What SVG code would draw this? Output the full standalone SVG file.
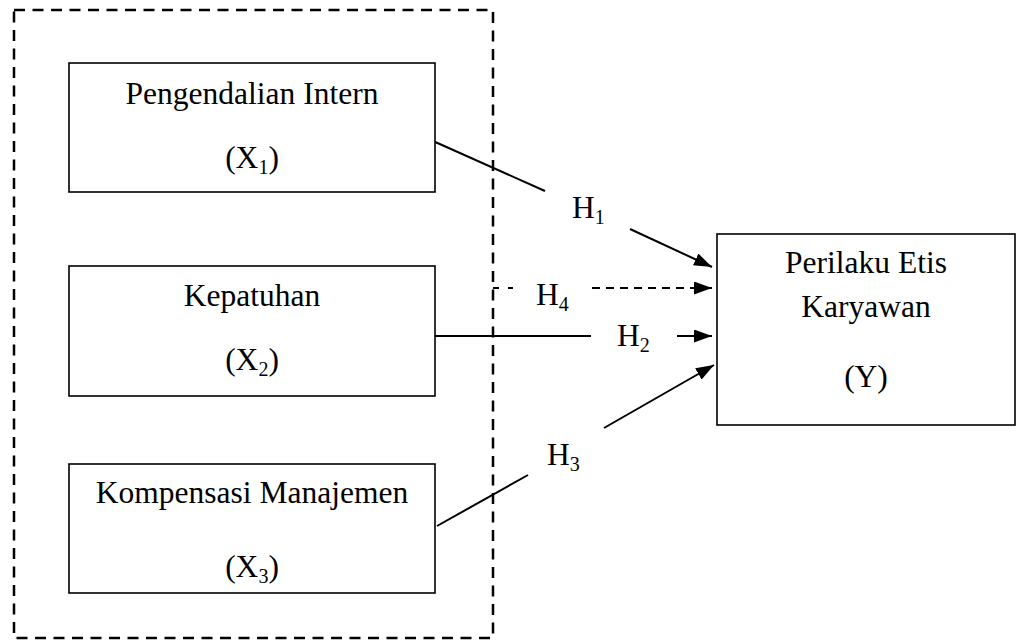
<svg xmlns="http://www.w3.org/2000/svg" width="1017" height="641" viewBox="0 0 1017 641">
<style>
.box{fill:#fff;stroke:#000;stroke-width:1.6}
.t{font-family:"Liberation Serif","Times New Roman",serif;font-size:31.5px;fill:#000;text-anchor:middle}
.lbl{font-family:"Liberation Serif","Times New Roman",serif;font-size:31.5px;fill:#000}
.sub{font-size:20px}
.ln{stroke:#000;stroke-width:2;fill:none}
.dash{stroke:#000;stroke-width:2.5;fill:none;stroke-dasharray:11 7.5}
.dash2{stroke:#000;stroke-width:2;fill:none;stroke-dasharray:8 6}
</style>
<defs>
<marker id="ah" markerWidth="18" markerHeight="13" refX="18" refY="6.5" orient="auto" markerUnits="userSpaceOnUse">
<path d="M0,0 L18,6.5 L0,13 Z" fill="#000"/>
</marker>
</defs>
<rect width="1017" height="641" fill="#fff"/>
<g id="group-x">
<rect x="14" y="10" width="479" height="628" class="dash"/>
</g>
<g id="connectors">
<line x1="433" y1="141" x2="545" y2="191" class="ln"/>
<line x1="630" y1="229" x2="712" y2="267" class="ln" marker-end="url(#ah)"/>
<line x1="435" y1="336" x2="591" y2="336" class="ln"/>
<line x1="677" y1="336" x2="712" y2="336" class="ln" marker-end="url(#ah)"/>
<line x1="437" y1="526" x2="528" y2="475" class="ln"/>
<line x1="604" y1="428" x2="714" y2="365" class="ln" marker-end="url(#ah)"/>
<line x1="493" y1="288" x2="499" y2="288" class="ln"/>
<line x1="508" y1="288" x2="513" y2="288" class="ln"/>
<line x1="592" y1="288" x2="712" y2="288" class="dash2" stroke-dasharray="2 7 8 6 8 6 8 6 8 6 8 6 8 6 8 6 8 6" marker-end="url(#ah)"/>
<text x="572" y="218" class="lbl">H<tspan class="sub" dy="6">1</tspan></text>
<text x="536" y="305" class="lbl">H<tspan class="sub" dy="6">4</tspan></text>
<text x="617" y="346" class="lbl">H<tspan class="sub" dy="6">2</tspan></text>
<text x="547" y="465" class="lbl">H<tspan class="sub" dy="6">3</tspan></text>
</g>
<g id="node-x1">
<rect x="69" y="63" width="366" height="129" class="box"/>
<text x="252" y="104" class="t">Pengendalian Intern</text>
<text x="252" y="168" class="t">(X<tspan class="sub" dy="6">1</tspan><tspan dy="-6">)</tspan></text>
</g>
<g id="node-x2">
<rect x="69" y="266" width="366" height="130" class="box"/>
<text x="252" y="306" class="t">Kepatuhan</text>
<text x="252" y="370" class="t">(X<tspan class="sub" dy="6">2</tspan><tspan dy="-6">)</tspan></text>
</g>
<g id="node-x3">
<rect x="69" y="464" width="366" height="129" class="box"/>
<text x="252" y="503" class="t">Kompensasi Manajemen</text>
<text x="252" y="577" class="t">(X<tspan class="sub" dy="6">3</tspan><tspan dy="-6">)</tspan></text>
</g>
<g id="node-y">
<rect x="717" y="234" width="298" height="191" class="box"/>
<text x="866" y="273" class="t">Perilaku Etis</text>
<text x="866" y="317" class="t">Karyawan</text>
<text x="866" y="387" class="t">(Y)</text>
</g>
</svg>
